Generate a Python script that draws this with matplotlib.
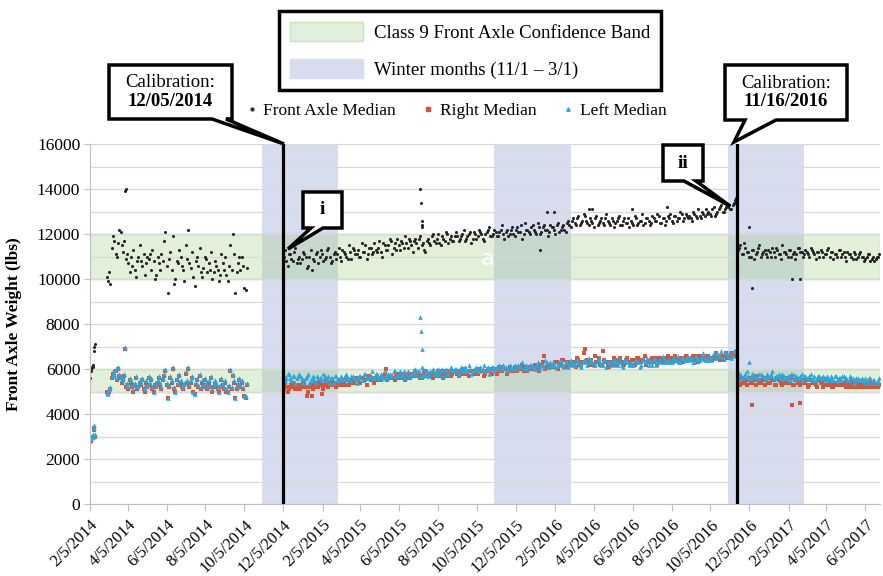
import numpy as np
import pandas as pd
import matplotlib
matplotlib.use("Agg")
import matplotlib.pyplot as plt
from matplotlib.patches import Patch, Polygon
from matplotlib.lines import Line2D
from datetime import datetime

# ---- data (weights in hundreds of lbs) ----
# Feb 2014 start-up, daily from 2/5/2014
feb14_start = "2014-02-05"
feb14_front = [56, 59, 60, 61, 62, 61, 68, 70, 71]
feb14_right = [28, 28, 29, 30, 30, 30, 34, 33, 30]
feb14_left = [28, 29, 29, 30, 31, 30, 35, 34, 31]

# Mar-Oct 2014, every 2 days from 3/3/2014
y2014_start = "2014-03-03"
y2014_front = [101, 99, 103, 98, 114, 119, 117, 111, 110, 116, 122, 121, 115, 112, 117,
               109, 111, 107, 103, 110, 106, 113, 104, 101, 108, 110, 115, 108, 106, 111,
               102, 107, 110, 109, 111, 104, 113, 108, 100, 102, 110, 107, 104, 111, 108,
               117, 121, 106, 94, 109, 112, 104, 119, 98, 100, 108, 107, 113, 110, 106,
               104, 99, 115, 109, 122, 107, 105, 112, 101, 97, 108, 110, 106, 114, 103,
               101, 105, 110, 109, 103, 107, 104, 112, 100, 103, 108, 106, 104, 99, 102,
               111, 107, 104, 110, 102, 99, 106, 115, 104, 120, 111, 94, 103, 107, 110,
               104, 110, 106, 96, 95, 105]
y2014_right = [50, 49, 50, 51, 56, 58, 57, 59, 55, 60, 57, 56, 54, 55, 57,
               52, 53, 51, 55, 54, 52, 50, 53, 56, 51, 52, 54, 53, 55, 51,
               50, 54, 52, 56, 53, 55, 51, 50, 53, 52, 54, 56, 53, 51, 55,
               57, 59, 53, 47, 52, 56, 54, 60, 51, 50, 55, 53, 57, 54, 52,
               51, 53, 58, 54, 60, 52, 54, 56, 50, 49, 53, 55, 52, 57, 51,
               54, 52, 55, 53, 51, 54, 52, 56, 50, 52, 54, 53, 51, 50, 52,
               55, 53, 51, 54, 50, 50, 52, 59, 51, 57, 54, 47, 51, 53, 55,
               52, 54, 51, 48, 47, 53]
y2014_left = [50, 49, 51, 52, 57, 59, 58, 60, 56, 61, 58, 57, 55, 56, 58,
              53, 54, 52, 56, 55, 53, 51, 54, 57, 52, 53, 55, 54, 56, 52,
              51, 55, 53, 57, 54, 56, 52, 50, 54, 53, 55, 57, 54, 52, 56,
              58, 60, 54, 47, 53, 57, 55, 61, 52, 50, 56, 54, 58, 55, 53,
              52, 54, 59, 55, 61, 53, 55, 57, 50, 49, 54, 56, 53, 58, 52,
              55, 53, 56, 54, 52, 55, 53, 57, 51, 53, 55, 54, 52, 50, 53,
              56, 54, 52, 55, 51, 50, 53, 60, 52, 58, 55, 47, 52, 54, 56,
              53, 55, 52, 48, 48, 54]

# after first calibration: two interleaved 4-day samplings (from 12/6 and 12/8/2014)
mid_start = "2014-12-06"
mid_front = [110, 108, 111, 109, 112, 107, 110,
             109, 111, 105, 110, 104, 108, 112, 110,
             111, 109, 113, 110, 108, 112, 111,
             110, 113, 111, 109, 112, 114, 111,
             113, 110, 112, 115, 111, 114, 112, 113,
             114, 112, 116, 113, 115, 117, 114, 113,
             115, 117, 114, 116, 118, 115, 117,
             116, 118, 115, 113, 117, 116, 119, 117,
             118, 116, 119, 117, 120, 118, 117, 119,
             119, 118, 120, 117, 119, 121, 118,
             120, 119, 121, 118, 120, 122, 119, 120,
             121, 119, 122, 120, 121, 119, 122,
             120, 122, 121, 124, 120, 122, 121, 123,
             122, 120, 123, 121, 124, 122, 121, 123,
             122, 124, 121, 123, 122, 125, 124,
             126, 125, 127, 124, 126, 128, 125, 127,
             125, 127, 124, 126, 125, 127, 126,
             124, 126, 125, 127, 124, 126, 125, 127,
             126, 124, 127, 125, 126, 124, 127, 126,
             125, 127, 126, 128, 125, 127, 126,
             127, 126, 128, 126, 127, 129, 127, 128,
             128, 126, 129, 127, 128, 130, 128, 129,
             129, 131, 128, 130, 132, 130, 131,
             132, 131, 133, 134]
mid_right = [51, 52, 51, 53, 52, 51, 53,
             52, 53, 48, 52, 48, 53, 52, 54,
             49, 53, 54, 53, 55, 54, 53,
             54, 55, 53, 55, 54, 56, 55,
             55, 54, 56, 55, 57, 55, 56, 55,
             56, 55, 57, 60, 56, 57, 56, 58,
             57, 56, 58, 57, 56, 58, 57,
             57, 58, 56, 58, 57, 58, 57, 58,
             58, 57, 59, 58, 57, 59, 58, 59,
             58, 59, 58, 60, 58, 59, 58,
             59, 58, 60, 59, 58, 60, 59, 60,
             59, 60, 59, 61, 60, 59, 60,
             60, 59, 61, 60, 59, 61, 60, 61,
             60, 61, 59, 62, 66, 61, 62, 61,
             61, 63, 62, 64, 61, 63, 62,
             62, 63, 65, 62, 63, 69, 64, 63,
             62, 66, 63, 62, 68, 63, 62,
             63, 62, 64, 63, 65, 62, 64, 63,
             62, 64, 63, 65, 63, 64, 62, 63,
             64, 63, 65, 63, 64, 63, 65,
             63, 64, 65, 64, 63, 65, 64, 65,
             64, 65, 64, 66, 64, 65, 64, 66,
             65, 64, 66, 65, 64, 66, 65,
             66, 65, 67, 66]
mid_left = [57, 56, 58, 55, 57, 56, 58,
            56, 55, 57, 54, 56, 55, 57, 56,
            55, 57, 56, 54, 56, 57, 55,
            56, 55, 57, 56, 55, 57, 56,
            56, 57, 55, 58, 56, 57, 56, 58,
            57, 58, 56, 57, 58, 57, 59, 57,
            58, 57, 59, 58, 57, 58, 59,
            58, 59, 57, 58, 59, 58, 59, 58,
            59, 58, 60, 59, 58, 60, 59, 60,
            59, 60, 59, 61, 59, 60, 59,
            60, 59, 61, 60, 59, 61, 60, 61,
            60, 61, 60, 62, 61, 60, 61,
            61, 60, 62, 61, 60, 62, 61, 62,
            61, 62, 60, 62, 61, 63, 61, 62,
            62, 61, 63, 62, 61, 63, 62,
            63, 62, 64, 62, 63, 64, 62, 63,
            63, 62, 64, 63, 62, 64, 63,
            62, 63, 64, 62, 63, 61, 64, 63,
            63, 62, 64, 63, 62, 64, 63, 62,
            63, 64, 62, 64, 63, 65, 63,
            64, 63, 65, 64, 63, 65, 64, 65,
            64, 65, 63, 65, 64, 66, 65, 64,
            65, 66, 65, 67, 66, 65, 67,
            66, 67, 66, 68]
mid_start_b = "2014-12-08"
mid_front_b = [113, 106, 111, 108, 114, 109,
               107, 112, 110, 106, 113, 109, 111, 107,
               113, 108, 110, 114, 107, 111, 109,
               114, 108, 112, 110, 115, 109, 113, 111,
               110, 116, 112, 109, 114, 111, 116,
               112, 117, 110, 115, 113, 118, 111, 116,
               118, 113, 116, 119, 114, 117, 112, 118,
               114, 119, 116, 112, 118, 115, 120,
               116, 120, 115, 118, 121, 116, 119, 117,
               121, 117, 119, 122, 118, 120, 116, 121,
               118, 122, 120, 117, 121, 123, 119,
               122, 119, 121, 124, 118, 122, 120, 123,
               119, 123, 121, 118, 125, 122, 120, 124,
               121, 125, 120, 123, 122, 119, 124,
               123, 120, 125, 122, 124, 121, 126, 123,
               127, 124, 128, 125, 129, 126, 124,
               126, 123, 128, 125, 127, 124, 129, 125,
               127, 123, 126, 128, 124, 127, 125, 123,
               125, 128, 124, 126, 129, 125, 127,
               124, 128, 126, 129, 125, 127, 124, 128,
               129, 125, 128, 127, 130, 126, 129, 127,
               127, 130, 128, 131, 127, 129, 131,
               130, 128, 132, 129, 131, 133, 130, 132,
               133, 131, 134, 132]
mid_right_b = [53, 50, 52, 54, 51, 52,
               51, 54, 52, 50, 53, 51, 54, 52,
               53, 51, 55, 52, 54, 53, 52,
               55, 53, 54, 56, 53, 55, 54, 56,
               54, 56, 55, 53, 57, 55, 54,
               57, 55, 56, 58, 55, 57, 56, 55,
               56, 58, 57, 55, 58, 56, 57, 59,
               58, 56, 57, 59, 57, 58, 56,
               57, 59, 58, 56, 59, 58, 57, 59,
               59, 57, 58, 60, 58, 57, 59, 58,
               58, 60, 59, 57, 59, 60, 58,
               60, 58, 61, 59, 60, 58, 61, 59,
               61, 59, 60, 62, 60, 59, 61, 60,
               62, 60, 61, 63, 60, 62, 61,
               61, 63, 60, 62, 64, 61, 63, 62,
               63, 61, 64, 62, 67, 63, 62,
               64, 62, 63, 65, 62, 64, 63, 61,
               63, 65, 62, 64, 63, 62, 65, 63,
               64, 62, 65, 63, 64, 66, 63,
               63, 65, 64, 62, 65, 64, 63, 66,
               65, 63, 66, 64, 65, 63, 66, 64,
               64, 66, 65, 63, 66, 65, 64,
               66, 64, 65, 67, 65, 66, 64, 67,
               65, 67, 66, 68]
mid_left_b = [55, 58, 56, 57, 54, 57,
              57, 54, 56, 58, 55, 57, 54, 56,
              56, 58, 55, 57, 56, 54, 57,
              55, 57, 56, 58, 55, 57, 56, 54,
              57, 55, 58, 56, 57, 59, 56,
              58, 56, 57, 59, 56, 58, 57, 59,
              57, 59, 58, 56, 59, 57, 58, 60,
              59, 57, 60, 58, 57, 59, 60,
              58, 60, 59, 57, 60, 58, 61, 59,
              60, 58, 61, 59, 60, 62, 58, 60,
              61, 59, 60, 62, 60, 58, 61,
              59, 61, 62, 60, 61, 59, 62, 60,
              62, 60, 61, 63, 61, 60, 62, 61,
              60, 63, 61, 62, 64, 61, 63,
              63, 61, 62, 64, 62, 63, 61, 64,
              62, 64, 63, 61, 64, 63, 65,
              64, 62, 63, 65, 62, 64, 61, 63,
              64, 62, 63, 65, 62, 64, 63, 62,
              62, 64, 63, 61, 64, 63, 65,
              64, 62, 65, 63, 64, 66, 63, 64,
              63, 65, 64, 66, 63, 65, 64, 66,
              65, 63, 66, 64, 65, 67, 64,
              66, 64, 67, 65, 66, 68, 65, 67,
              67, 65, 68, 66]

# after second calibration: two interleaved 4-day samplings (from 11/17 and 11/19/2016)
late_start = "2016-11-17"
late_front = [113, 115, 111, 114,
              112, 110, 113, 111, 114, 110, 112, 111,
              113, 110, 112, 114, 111, 109, 112,
              111, 113, 110, 112, 111, 114, 112,
              111, 112, 110, 113, 111, 112, 110, 112,
              111, 113, 110, 112, 111, 110, 113, 111,
              110, 112, 111, 109, 111, 110, 112,
              110, 109, 111, 108, 110, 109, 110]
late_right = [55, 53, 56, 54,
              55, 54, 56, 53, 55, 54, 56, 55,
              54, 56, 55, 53, 55, 54, 56,
              55, 54, 56, 53, 55, 54, 55,
              54, 55, 53, 55, 54, 52, 55, 54,
              53, 55, 54, 52, 54, 53, 55, 53,
              54, 53, 52, 54, 53, 52, 54,
              53, 52, 54, 53, 52, 53, 52]
late_left = [57, 58, 56, 58,
             57, 56, 58, 57, 56, 58, 57, 56,
             57, 58, 56, 57, 58, 56, 57,
             56, 57, 58, 56, 57, 56, 58,
             57, 56, 57, 55, 57, 56, 57, 56,
             56, 57, 55, 56, 57, 55, 56, 57,
             56, 55, 57, 56, 55, 56, 55,
             55, 56, 54, 56, 55, 54, 55]
late_start_b = "2016-11-19"
late_front_b = [114, 111, 116, 112, 110, 113, 109, 112,
                115, 111, 113, 110, 112, 114, 110, 113,
                111, 115, 112, 110, 113, 111, 109, 114,
                112, 110, 113, 111, 114, 112, 109, 112,
                113, 110, 111, 114, 112, 109, 111, 113,
                110, 112, 108, 111, 110, 112, 109, 111,
                110, 108, 110, 111, 109, 108, 110, 111]
late_right_b = [56, 54, 55, 53, 56, 54, 55, 57,
                54, 55, 53, 56, 54, 55, 53, 56,
                55, 53, 54, 56, 54, 53, 55, 54,
                53, 55, 54, 52, 55, 54, 53, 55,
                54, 52, 55, 53, 54, 52, 53, 55,
                53, 54, 52, 53, 55, 52, 54, 53,
                52, 54, 53, 52, 54, 53, 52, 53]
late_left_b = [58, 56, 57, 59, 56, 58, 57, 56,
               58, 57, 56, 58, 57, 59, 56, 57,
               57, 58, 56, 57, 55, 58, 57, 56,
               57, 55, 57, 56, 58, 56, 55, 57,
               56, 57, 55, 56, 57, 55, 57, 56,
               55, 57, 56, 55, 56, 54, 56, 55,
               56, 54, 55, 56, 54, 55, 54, 56]

# isolated outliers (date, value)
front_spike_dates = ["2014-04-01", "2014-04-02", "2015-07-08", "2015-07-09", "2015-07-10",
                     "2015-07-10", "2015-07-11", "2016-01-11", "2016-01-22", "2016-02-02",
                     "2016-03-28", "2016-04-02", "2016-06-04", "2016-07-29", "2016-11-12",
                     "2016-11-14", "2016-12-05", "2016-12-10", "2017-02-10", "2017-02-22"]
front_spike_vals = [139, 140, 140, 134, 126, 124, 123, 113, 130, 130,
                    131, 131, 131, 132, 135, 136, 123, 96, 100, 100]
right_spike_dates = ["2014-04-01", "2016-12-09", "2017-02-10", "2017-02-22"]
right_spike_vals = [69, 44, 44, 45]
left_spike_dates = ["2014-04-01", "2015-07-08", "2015-07-09", "2015-07-10", "2015-07-10", "2016-12-05"]
left_spike_vals = [70, 83, 77, 69, 61, 63]

tick_labels = ["2/5/2014", "4/5/2014", "6/5/2014", "8/5/2014", "10/5/2014", "12/5/2014",
               "2/5/2015", "4/5/2015", "6/5/2015", "8/5/2015", "10/5/2015", "12/5/2015",
               "2/5/2016", "4/5/2016", "6/5/2016", "8/5/2016", "10/5/2016", "12/5/2016",
               "2/5/2017", "4/5/2017", "6/5/2017"]
winters = [("2014-11-01", "2015-03-01"), ("2015-11-01", "2016-03-01"), ("2016-11-01", "2017-03-01")]
conf_bands = [(10000, 12000), (5000, 6000)]
calibrations = ["2014-12-05", "2016-11-16"]


def build(parts, spike_d, spike_v):
    d, v = [], []
    for start, step, vals in parts:
        d.append(pd.date_range(start, periods=len(vals), freq=step).values)
        v.append(np.array(vals))
    d.append(pd.to_datetime(spike_d).values)
    v.append(np.array(spike_v))
    return np.concatenate(d), np.concatenate(v) * 100


front_d, front_v = build([(feb14_start, "1D", feb14_front), (y2014_start, "2D", y2014_front),
                          (mid_start, "4D", mid_front), (mid_start_b, "4D", mid_front_b),
                          (late_start, "4D", late_front), (late_start_b, "4D", late_front_b)],
                         front_spike_dates, front_spike_vals)
right_d, right_v = build([(feb14_start, "1D", feb14_right), (y2014_start, "2D", y2014_right),
                          (mid_start, "4D", mid_right), (mid_start_b, "4D", mid_right_b),
                          (late_start, "4D", late_right), (late_start_b, "4D", late_right_b)],
                         right_spike_dates, right_spike_vals)
left_d, left_v = build([(feb14_start, "1D", feb14_left), (y2014_start, "2D", y2014_left),
                        (mid_start, "4D", mid_left), (mid_start_b, "4D", mid_left_b),
                        (late_start, "4D", late_left), (late_start_b, "4D", late_left_b)],
                       left_spike_dates, left_spike_vals)

# ---- figure ----
plt.rcParams["font.family"] = ["Liberation Serif", "DejaVu Serif"]
W, H = 883, 576
fig = plt.figure(figsize=(W / 100, H / 100), dpi=100)
ax = fig.add_axes([90 / W, 1 - 504 / H, 790 / W, 360 / H])

GREEN = (0.63, 0.80, 0.51, 0.30)
BLUE = "#d7ddee"
for a, b in winters:
    ax.axvspan(pd.Timestamp(a), pd.Timestamp(b), color=BLUE, lw=0, zorder=0.1)
for lo, hi in conf_bands:
    ax.axhspan(lo, hi, facecolor=GREEN, edgecolor=(0.75, 0.86, 0.68), lw=1, zorder=0.2)

ax.scatter(front_d, front_v, s=5, marker="o", color="#262626", lw=0, zorder=2)
ax.scatter(right_d, right_v, s=9, marker="s", color="#d4553b", lw=0, zorder=2.1)
ax.scatter(left_d, left_v, s=11, marker="^", color="#29a8df", lw=0, zorder=2.2)

for c in calibrations:
    ax.axvline(pd.Timestamp(c), color="black", lw=2.3, zorder=4)

ax.text(pd.Timestamp("2015-10-21"), 10900, "a", color="white", fontsize=16,
        family="DejaVu Sans", ha="center", va="center", zorder=3)

ax.set_ylim(0, 16000)
ax.set_xlim(pd.Timestamp("2014-02-05"), pd.Timestamp("2017-06-28"))
ax.set_yticks(range(0, 16001, 2000))
ax.set_yticks(range(0, 16001, 1000), minor=True)
ax.yaxis.grid(True, which="both", color="#d9d9d9", lw=0.9)
ax.set_axisbelow(True)
tick_dates = [datetime.strptime(s, "%m/%d/%Y") for s in tick_labels]
ax.set_xticks(tick_dates)
ax.set_xticklabels(tick_labels, rotation=45, ha="right", rotation_mode="anchor", fontsize=12)
ax.tick_params(axis="x", length=5, color="#bfbfbf", pad=4)
ax.tick_params(axis="y", which="major", length=4, color="#bfbfbf", labelsize=12.5, pad=3)
ax.tick_params(axis="y", which="minor", length=0)
for s in ["top", "right"]:
    ax.spines[s].set_visible(False)
for s in ["left", "bottom"]:
    ax.spines[s].set_color("#bfbfbf")
ax.set_ylabel("Front Axle Weight (lbs)", fontsize=12.5, fontweight="bold")
ax.yaxis.set_label_coords(-68 / 790, 0.5)

# band legend
band_leg = fig.legend(handles=[Patch(facecolor=(0.886, 0.937, 0.855), edgecolor=(0.80, 0.89, 0.74)),
                               Patch(facecolor=BLUE, edgecolor=BLUE)],
                      labels=["Class 9 Front Axle Confidence Band", "Winter months (11/1 \u2013 3/1)"],
                      loc="center", bbox_to_anchor=(470 / W, 1 - 50.5 / H), fontsize=13.5,
                      handlelength=3.9, handleheight=1.15, handletextpad=0.55, labelspacing=0.95,
                      borderpad=0.6, fancybox=False, edgecolor="black", framealpha=1)
band_leg.get_frame().set_linewidth(2.5)

# series legend
fig.legend(handles=[Line2D([], [], ls="", marker="o", ms=2, color="#262626"),
                    Line2D([], [], ls="", marker="s", ms=2.5, color="#d4553b"),
                    Line2D([], [], ls="", marker="^", ms=2.5, color="#29a8df")],
           labels=["Front Axle Median", "Right Median", "Left Median"],
           loc="center", bbox_to_anchor=(457 / W, 1 - 111 / H), ncol=3, frameon=False,
           fontsize=12.5, handlelength=0.5, handletextpad=0.4, columnspacing=1.6)


def callout(box, base, tip, lines, size=13.5):
    l, t, r, b = box
    pts = [(l, t), (r, t), (r, b), (base[1], b), tip, (base[0], b), (l, b)]
    poly = Polygon([(x / W, 1 - y / H) for x, y in pts], closed=True, transform=fig.transFigure,
                   facecolor="white", edgecolor="black", lw=2.5, joinstyle="miter", zorder=6)
    fig.add_artist(poly)
    cx = (l + r) / 2
    n = len(lines)
    for i, (txt, wt) in enumerate(lines):
        cy = (t + b) / 2 + (i - (n - 1) / 2) * 19
        fig.text(cx / W, 1 - cy / H, txt, ha="center", va="center", fontsize=size,
                 fontweight=wt, zorder=7)


callout((109, 65, 232, 119), (212, 226), (284, 144),
        [("Calibration:", "normal"), ("12/05/2014", "bold")])
callout((725, 65, 847, 120), (745, 776), (734, 142),
        [("Calibration:", "normal"), ("11/16/2016", "bold")])
callout((303, 192, 342, 228), (311, 323), (288, 249), [("i", "bold")], size=14)
callout((663, 145, 703, 181), (684, 696), (730, 206), [("ii", "bold")], size=14)

fig.savefig("out.png", dpi=100)
